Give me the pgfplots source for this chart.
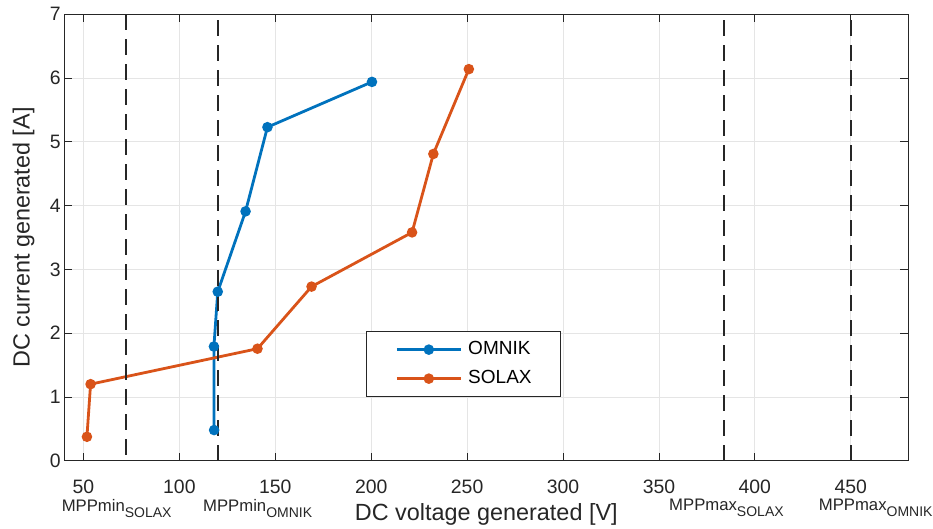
\documentclass[border=0pt]{standalone}
\usepackage{pgfplots}
\pgfplotsset{compat=1.18}
\usepackage{fontspec}
\setmainfont{Liberation Sans}
\definecolor{mblue}{rgb}{0,0.447,0.741}
\definecolor{morange}{rgb}{0.85,0.325,0.098}
\definecolor{mgray}{rgb}{0.15,0.15,0.15}
\newcommand{\mpp}[2]{\fontsize{16.7bp}{18bp}\selectfont #1\raisebox{-0.35em}{\fontsize{14bp}{14bp}\selectfont #2}}
\begin{document}
\begin{tikzpicture}
\begin{axis}[
  scale only axis, width=844bp, height=446.4bp,
  xmin=40, xmax=480, ymin=0, ymax=7,
  xtick={50,100,...,450}, ytick={0,1,...,7},
  grid=major, major grid style={color=black!10, line width=0.8bp},
  axis line style={mgray, line width=0.8bp},
  tick style={mgray, line width=0.8bp},
  tick align=inside, major tick length=8bp,
  ticklabel style={font=\fontsize{19.4bp}{22bp}\selectfont, text=mgray},
  xticklabel style={yshift=-16bp},
  /pgf/number format/assume math mode=true,
  xlabel={DC voltage generated [V]},
  ylabel={DC current generated [A]},
  label style={font=\fontsize{23.4bp}{26bp}\selectfont, text=mgray},
  xlabel style={at={(axis description cs:0.5,-0.135)}, anchor=base},
  ylabel style={at={(axis description cs:-0.0412,0.5)}, anchor=base},
  extra x ticks={67.3,140.8,385.2,463},
  extra x tick labels={\mpp{MPPmin}{SOLAX},\mpp{MPPmin}{OMNIK},\mpp{MPPmax}{SOLAX},\mpp{MPPmax}{OMNIK}},
  extra x tick style={grid=none, major tick length=0pt, xticklabel style={yshift=-19bp}},
  legend style={at={(axis description cs:0.3575,0.290)}, anchor=north west,
    draw=mgray, line width=0.8bp, font=\fontsize{19bp}{22bp}\selectfont,
    nodes={inner sep=0bp, text height=14bp, text depth=4bp},
    column sep=6bp, row sep=11bp, inner xsep=29bp, inner ysep=9bp},
  legend cell align=left,
  legend image code/.code={\draw[mark repeat=2,mark phase=2,#1] plot coordinates {(0bp,0bp) (32bp,0bp) (64bp,0bp)};},
]
\addplot[mblue, line width=2.8bp, mark=*, mark size=3.8bp] coordinates {
  (118.1,0.48) (118,1.79) (120,2.65) (134.5,3.91) (145.9,5.23) (200.4,5.94)};
\addlegendentry{OMNIK}
\addplot[morange, line width=2.8bp, mark=*, mark size=3.8bp] coordinates {
  (51.8,0.375) (53.7,1.20) (140.7,1.756) (168.9,2.73) (221.3,3.58) (232.4,4.81) (250.9,6.14)};
\addlegendentry{SOLAX}
\addplot[mgray, dash pattern=on 16bp off 9bp, line width=2.2bp, forget plot] coordinates {(72,7) (72,0)};
\addplot[mgray, dash pattern=on 16bp off 9bp, line width=2.2bp, forget plot] coordinates {(120,0) (120,7)};
\addplot[mgray, dash pattern=on 16bp off 9bp, line width=2.2bp, forget plot] coordinates {(384,0) (384,7)};
\addplot[mgray, dash pattern=on 16bp off 9bp, line width=2.2bp, forget plot] coordinates {(450,0) (450,7)};
\end{axis}
\pgfresetboundingbox
\path ([shift={(-64.3bp,-68.3bp)}]current axis.south west) rectangle ([shift={(24.7bp,14.3bp)}]current axis.north east);
\end{tikzpicture}
\end{document}
